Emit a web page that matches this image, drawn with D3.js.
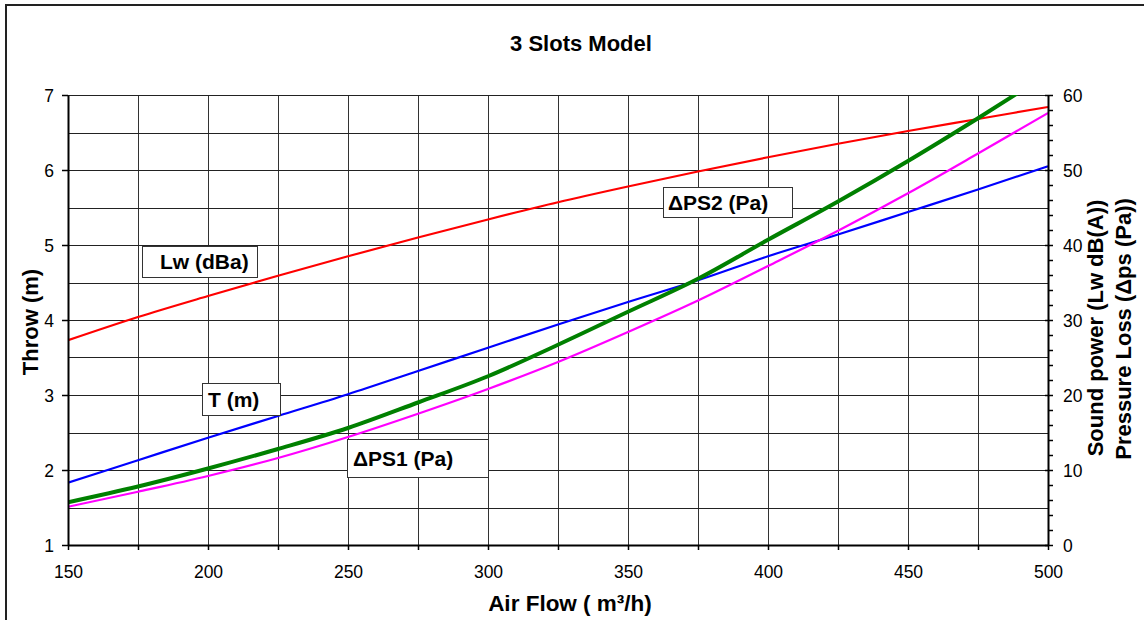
<!DOCTYPE html>
<html>
<head>
<meta charset="utf-8">
<script src="https://cdn.jsdelivr.net/npm/d3@7"></script>
<style>
  html, body { margin: 0; padding: 0; background: #fff; }
  svg { display: block; font-family: "Liberation Sans", Arial, sans-serif; }
</style>
</head>
<body>
<svg id="chart" width="1144" height="620"></svg>
<script>
// ---- data ----
const airflow = [150, 175, 200, 225, 250, 275, 300, 325, 350, 375, 400, 425, 450, 475, 500];
const throwT  = [1.83, 2.13, 2.43, 2.72, 3.01, 3.32, 3.63, 3.94, 4.24, 4.53, 4.85, 5.14, 5.44, 5.74, 6.05];
const lw      = [27.3, 30.4, 33.2, 35.9, 38.5, 41.0, 43.4, 45.7, 47.8, 49.8, 51.7, 53.5, 55.2, 56.8, 58.4];
const dps1    = [5.1, 7.1, 9.2, 11.6, 14.4, 17.5, 20.8, 24.4, 28.4, 32.6, 37.2, 41.9, 46.9, 52.2, 57.6];
const dps2    = [5.7, 7.8, 10.2, 12.8, 15.6, 19.0, 22.5, 26.7, 31.1, 35.5, 40.7, 45.8, 51.2, 56.9, 62.8];

const xTicks = [150, 200, 250, 300, 350, 400, 450, 500];
const xGrid  = d3.range(150, 501, 25);
const leftTicks = [1, 2, 3, 4, 5, 6, 7];
const leftGrid = d3.range(1, 7.01, 0.5);
const rightTicks = [0, 10, 20, 30, 40, 50, 60];
const rightMinor = d3.range(0, 60.01, 2);

const title = "3 Slots Model";
const xTitle = "Air Flow ( m³/h)";
const yLeftTitle = "Throw (m)";
const yRightTitle1 = "Sound power (Lw dB(A))";
const yRightTitle2 = "Pressure Loss (Δps (Pa))";

// ---- layout ----
const X0 = 68, X1 = 1048, Y0 = 545, Y1 = 95;
const svg = d3.select("#chart");
const x = d3.scaleLinear().domain([150, 500]).range([X0, X1]);
const yL = d3.scaleLinear().domain([1, 7]).range([Y0, Y1]);
const yR = d3.scaleLinear().domain([0, 60]).range([Y0, Y1]);

// outer frame
svg.append("rect").attr("x", 6).attr("y", 5).attr("width", 1160).attr("height", 700)
  .attr("fill", "none").attr("stroke", "#222").attr("stroke-width", 2);

// title
svg.append("text").attr("x", 581).attr("y", 51).attr("text-anchor", "middle")
  .attr("font-size", 22).attr("font-weight", "bold").text(title);

// grid
const grid = svg.append("g");
grid.selectAll("line.v").data(xGrid).join("line")
  .attr("x1", d => Math.round(x(d)) + 0.5).attr("x2", d => Math.round(x(d)) + 0.5)
  .attr("y1", Y1).attr("y2", Y0).attr("stroke", "#333").attr("stroke-width", 1);
grid.selectAll("line.h").data(leftGrid).join("line")
  .attr("y1", d => Math.round(yL(d)) + 0.5).attr("y2", d => Math.round(yL(d)) + 0.5)
  .attr("x1", X0).attr("x2", X1).attr("stroke", "#222").attr("stroke-width", 1);

// clip
svg.append("clipPath").attr("id", "clip").append("rect")
  .attr("x", X0).attr("y", Y1).attr("width", X1 - X0).attr("height", Y0 - Y1);

const series = [
  { vals: lw,     scale: yR, color: "#FF0000", w: 2.2 },
  { vals: throwT, scale: yL, color: "#0000FF", w: 2.2 },
  { vals: dps1,   scale: yR, color: "#FF00FF", w: 2.2 },
  { vals: dps2,   scale: yR, color: "#008000", w: 4 },
];
const lines = svg.append("g").attr("clip-path", "url(#clip)");
series.forEach(s => {
  const gen = d3.line().x((d, i) => x(airflow[i])).y(d => s.scale(d)).curve(d3.curveMonotoneX);
  lines.append("path").datum(s.vals).attr("d", gen)
    .attr("fill", "none").attr("stroke", s.color).attr("stroke-width", s.w)
    .attr("stroke-linejoin", "round");
});

// axes
const axL = svg.append("g").attr("transform", `translate(${X0},0)`)
  .call(d3.axisLeft(yL).tickValues(leftTicks).tickSize(6).tickSizeOuter(0).tickFormat(d3.format("d")));
const axB = svg.append("g").attr("transform", `translate(0,${Y0})`)
  .call(d3.axisBottom(x).tickValues(xGrid).tickSize(5).tickSizeOuter(0).tickFormat(d => xTicks.includes(d) ? d : ""));
const axR = svg.append("g").attr("transform", `translate(${X1},0)`)
  .call(d3.axisRight(yR).tickValues(rightMinor).tickSize(5).tickSizeOuter(0).tickFormat(d => rightTicks.includes(d) ? d : ""));
[axL, axB, axR].forEach(a => {
  a.select(".domain").attr("stroke", "#000").attr("stroke-width", 2);
  a.selectAll(".tick line").attr("stroke", "#000").attr("stroke-width", 1.5);
  a.selectAll("text").attr("font-size", 17.5).attr("fill", "#000")
    .attr("font-family", "'Liberation Sans', Arial, sans-serif");
});
axL.selectAll(".tick text").attr("x", -14).attr("dy", "0.35em");
axB.selectAll(".tick text").attr("y", 21).attr("dy", "0.71em");
axR.selectAll(".tick text").attr("x", 15).attr("dy", "0.35em");
axR.selectAll(".tick line").attr("x1", d => rightTicks.includes(d) ? -3 : 0);

// axis titles
svg.append("text").attr("x", 570).attr("y", 611).attr("text-anchor", "middle")
  .attr("font-size", 22.5).attr("font-weight", "bold").text(xTitle);
svg.append("text").attr("transform", "translate(38,322) rotate(-90)").attr("text-anchor", "middle")
  .attr("font-size", 22).attr("font-weight", "bold").text(yLeftTitle);
svg.append("text").attr("transform", "translate(1103,328) rotate(-90)").attr("text-anchor", "middle")
  .attr("font-size", 22).attr("font-weight", "bold").text(yRightTitle1);
svg.append("text").attr("transform", "translate(1131,329) rotate(-90)").attr("text-anchor", "middle")
  .attr("font-size", 22).attr("font-weight", "bold").text(yRightTitle2);

// series labels
const labels = [
  { text: "Lw (dBa)",  bx: 142, by: 246, bw: 115, bh: 31, tx: 160 },
  { text: "T (m)",     bx: 202, by: 383, bw: 78,  bh: 32, tx: 208 },
  { text: "ΔPS1 (Pa)", bx: 347, by: 439, bw: 141, bh: 38, tx: 353 },
  { text: "ΔPS2 (Pa)", bx: 663, by: 187, bw: 129, bh: 30, tx: 668 },
];
const lg = svg.append("g");
labels.forEach(l => {
  lg.append("rect").attr("x", l.bx + 0.5).attr("y", l.by + 0.5).attr("width", l.bw).attr("height", l.bh)
    .attr("fill", "#fff").attr("stroke", "#333").attr("stroke-width", 1);
  lg.append("text").attr("x", l.tx).attr("y", l.by + l.bh / 2 + 7.5)
    .attr("font-size", 21).attr("font-weight", "bold").text(l.text);
});
</script>
</body>
</html>
